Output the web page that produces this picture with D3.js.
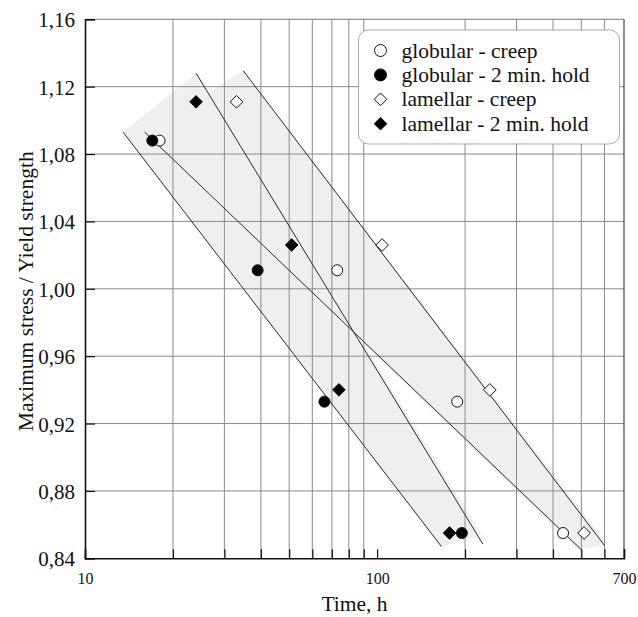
<!DOCTYPE html>
<html>
<head>
<meta charset="utf-8">
<script src="https://cdn.jsdelivr.net/npm/d3@7"></script>
<style>
  body { margin: 0; background: #fff; }
  svg { display: block; }
</style>
</head>
<body>
<div id="chart"></div>
<script>
// data: time (h), max stress / yield strength
const globularCreep = [[18, 1.088], [73, 1.011], [188, 0.933], [433, 0.855]];
const globularHold  = [[17, 1.088], [39, 1.011], [66, 0.933], [195, 0.855]];
const lamellarCreep = [[33, 1.111], [104, 1.026], [243, 0.940], [511, 0.855]];
const lamellarHold  = [[24, 1.111], [51, 1.026], [74, 0.940], [177, 0.855]];

// straight lines drawn on the chart (start / end)
const fitLines = [
  [[13.5, 1.093], [166, 0.847]],
  [[24.0, 1.128], [230, 0.8485]],
  [[16.0, 1.093], [501, 0.845]],
  [[34.8, 1.1295], [601, 0.8475]]
];

// shaded scatter bands
const bands = [
  [[13.5, 1.093], [24.0, 1.128], [228, 0.854], [166, 0.847]],
  [[16.0, 1.093], [34.8, 1.1295], [617, 0.848], [482, 0.8455]]
];

const yTicks = [0.84, 0.88, 0.92, 0.96, 1.00, 1.04, 1.08, 1.12, 1.16];
const xGrid = [20, 30, 40, 50, 60, 70, 80, 90, 200, 300, 400, 500, 600];
const xLabels = [10, 100, 700];

const legendItems = [
  {label: "globular - creep", shape: "circle", filled: false},
  {label: "globular - 2 min. hold", shape: "circle", filled: true},
  {label: "lamellar - creep", shape: "diamond", filled: false},
  {label: "lamellar - 2 min. hold", shape: "diamond", filled: true}
];

const FONT = "'Liberation Serif', 'Times New Roman', serif";
const W = 638, H = 617;
const margin = {left: 85, right: 14, top: 19.3, bottom: 58.7};
const width = W - margin.left - margin.right,
      height = H - margin.top - margin.bottom;

const svg = d3.select("#chart").append("svg")
    .attr("width", W).attr("height", H)
    .attr("font-family", FONT);
const g = svg.append("g")
    .attr("transform", "translate(" + margin.left + "," + margin.top + ")");

const x = d3.scaleLog().domain([10, 700]).range([0, width]);
const y = d3.scaleLinear().domain([0.84, 1.16]).range([height, 0]);

// bands
g.append("g").selectAll("path")
    .data(bands)
    .enter().append("path")
    .attr("d", d => d3.line().x(p => x(p[0])).y(p => y(p[1]))(d) + "Z")
    .attr("fill", "#efefef");

// grid
g.append("g").selectAll("line")
    .data(xGrid)
    .enter().append("line")
    .attr("x1", d => x(d)).attr("x2", d => x(d))
    .attr("y1", 0).attr("y2", height)
    .attr("stroke", "#8a8a8a").attr("stroke-width", 1);
g.append("g").selectAll("line")
    .data(yTicks.slice(1, -1))
    .enter().append("line")
    .attr("x1", 0).attr("x2", width)
    .attr("y1", d => y(d)).attr("y2", d => y(d))
    .attr("stroke", "#8a8a8a").attr("stroke-width", 1);

// frame top / right
g.append("line").attr("x1", 0).attr("x2", width).attr("y1", 0).attr("y2", 0)
    .attr("stroke", "#777").attr("stroke-width", 1);
g.append("line").attr("x1", width).attr("x2", width).attr("y1", 0).attr("y2", height)
    .attr("stroke", "#444").attr("stroke-width", 1.2);

// fitted lines
g.append("g").selectAll("line")
    .data(fitLines)
    .enter().append("line")
    .attr("x1", d => x(d[0][0])).attr("y1", d => y(d[0][1]))
    .attr("x2", d => x(d[1][0])).attr("y2", d => y(d[1][1]))
    .attr("stroke", "#2a2a2a").attr("stroke-width", 1);

// axes
const yAxis = g.append("g")
    .call(d3.axisLeft(y).tickValues(yTicks).tickSize(-10).tickPadding(10)
        .tickFormat(d => d3.format(".2f")(d).replace(".", ",")));
yAxis.attr("font-family", FONT);
yAxis.select(".domain").attr("stroke", "#111").attr("stroke-width", 1.6);
yAxis.selectAll(".tick line").attr("stroke", "#111").attr("stroke-width", 1.2);
yAxis.selectAll(".tick text").attr("font-size", 21).attr("fill", "#111").attr("dy", "0.36em");

const xAxis = g.append("g")
    .attr("transform", "translate(0," + height + ")")
    .call(d3.axisBottom(x).tickValues(xGrid.concat(xLabels)).tickSize(-9).tickPadding(14)
        .tickFormat(d => xLabels.includes(d) ? d : ""));
xAxis.attr("font-family", FONT);
xAxis.select(".domain").attr("stroke", "#111").attr("stroke-width", 1.6);
xAxis.selectAll(".tick line").attr("stroke", "#111").attr("stroke-width", 1.2);
xAxis.selectAll(".tick text").attr("font-size", 16).attr("fill", "#111");

// axis titles
g.append("text")
    .attr("x", width / 2).attr("y", height + 53)
    .attr("text-anchor", "middle")
    .attr("font-size", 21.5).attr("fill", "#111")
    .text("Time, h");
g.append("text")
    .attr("transform", "rotate(-90)")
    .attr("x", -272).attr("y", -52)
    .attr("text-anchor", "middle")
    .attr("font-size", 21.5).attr("fill", "#111")
    .text("Maximum stress / Yield strength");

// markers
function drawMarker(sel, shape, filled, r) {
  if (shape === "circle") {
    sel.append("circle").attr("r", r);
  } else {
    const s = r * 1.15;
    sel.append("path").attr("d", "M0," + (-s) + "L" + s + ",0L0," + s + "L" + (-s) + ",0Z");
  }
  sel.selectAll("circle,path")
    .attr("fill", filled ? "#000" : "#fff")
    .attr("stroke", "#111").attr("stroke-width", 1);
}

const series = [
  {data: globularCreep, shape: "circle", filled: false},
  {data: lamellarCreep, shape: "diamond", filled: false},
  {data: globularHold, shape: "circle", filled: true},
  {data: lamellarHold, shape: "diamond", filled: true}
];
series.forEach(s => {
  s.data.forEach(p => {
    const m = g.append("g").attr("transform", "translate(" + x(p[0]) + "," + y(p[1]) + ")");
    drawMarker(m, s.shape, s.filled, 5.5);
  });
});

// legend
const legend = svg.append("g").attr("transform", "translate(358.5,30)");
legend.append("rect")
    .attr("width", 261).attr("height", 114).attr("rx", 10)
    .attr("fill", "#fff").attr("stroke", "#aaa").attr("stroke-width", 1);
legendItems.forEach((d, i) => {
  const row = legend.append("g").attr("transform", "translate(0," + (20.5 + i * 24.4) + ")");
  const m = row.append("g").attr("transform", "translate(22,0)");
  drawMarker(m, d.shape, d.filled, d.shape === "circle" ? 6 : 5.5);
  row.append("text")
      .attr("x", 43).attr("y", 0).attr("dy", "0.33em")
      .attr("font-size", 21.5).attr("fill", "#111")
      .text(d.label);
});
</script>
</body>
</html>
